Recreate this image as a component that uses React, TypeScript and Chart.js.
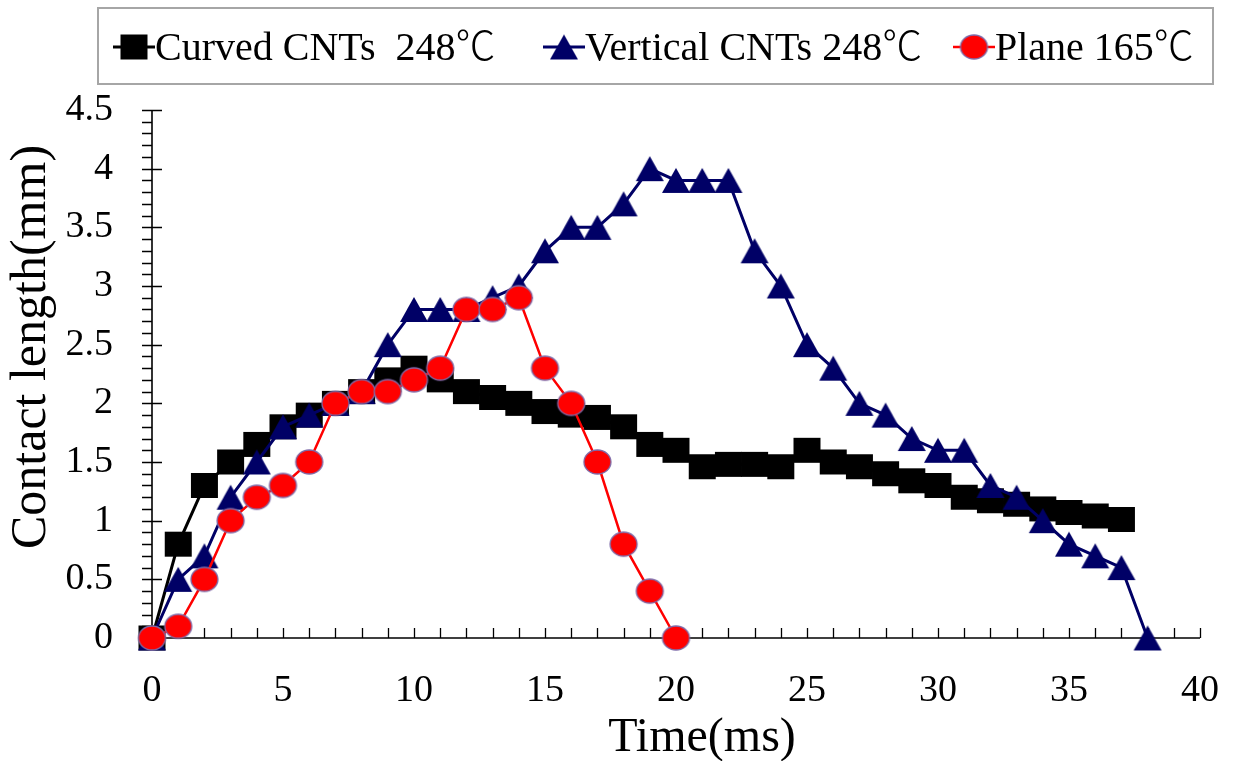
import { useEffect, useRef } from 'react';
import { Chart, registerables } from 'chart.js';

Chart.register(...registerables);

const timeMs = [0, 1, 2, 3, 4, 5, 6, 7, 8, 9, 10, 11, 12, 13, 14, 15, 16, 17, 18, 19, 20, 21, 22, 23, 24, 25, 26, 27, 28, 29, 30, 31, 32, 33, 34, 35, 36, 37, 38];

const curvedCNTs248 = [0, 0.8, 1.3, 1.5, 1.65, 1.8, 1.9, 2.0, 2.1, 2.2, 2.3, 2.2, 2.1, 2.05, 2.0, 1.93, 1.9, 1.88, 1.8, 1.65, 1.6, 1.46, 1.48, 1.48, 1.46, 1.6, 1.5, 1.46, 1.4, 1.34, 1.3, 1.2, 1.17, 1.14, 1.1, 1.07, 1.04, 1.01];

const verticalCNTs248 = [0, 0.5, 0.7, 1.2, 1.5, 1.8, 1.9, 2.0, 2.1, 2.5, 2.8, 2.8, 2.8, 2.9, 3.0, 3.3, 3.5, 3.5, 3.7, 4.0, 3.9, 3.9, 3.9, 3.3, 3.0, 2.5, 2.3, 2.0, 1.9, 1.7, 1.6, 1.6, 1.3, 1.2, 1.0, 0.8, 0.7, 0.6, 0];

const plane165 = [0, 0.1, 0.5, 1.0, 1.2, 1.3, 1.5, 2.0, 2.1, 2.1, 2.2, 2.3, 2.8, 2.8, 2.9, 2.3, 2.0, 1.5, 0.8, 0.4, 0];

const seriesLabels = ['Curved CNTs  248\u2103', 'Vertical CNTs 248\u2103', 'Plane 165\u2103'];

const xTickLabels = ['0', '5', '10', '15', '20', '25', '30', '35', '40'];
const yTickLabels = ['0', '0.5', '1', '1.5', '2', '2.5', '3', '3.5', '4', '4.5'];

const xTitle = 'Time(ms)';
const yTitle = 'Contact length(mm)';

const SERIF = '"Liberation Serif", "Times New Roman", serif';
const LEGEND_FONT = '"Liberation Serif", "Noto Sans CJK SC", "DejaVu Serif", serif';

function makeMarker(kind: string, w: number, h: number, fill: string, stroke: string, lw: number) {
  const c = document.createElement('canvas');
  const pad = 2;
  c.width = w + pad * 2;
  c.height = h + pad * 2;
  const g = c.getContext('2d')!;
  g.fillStyle = fill;
  g.strokeStyle = stroke;
  g.lineWidth = lw;
  g.beginPath();
  if (kind === 'rect') {
    g.rect(pad, pad, w, h);
  } else if (kind === 'tri') {
    g.moveTo(pad + w / 2, pad);
    g.lineTo(pad + w, pad + h);
    g.lineTo(pad, pad + h);
    g.closePath();
  } else {
    g.ellipse(pad + w / 2, pad + h / 2, w / 2, h / 2, 0, 0, Math.PI * 2);
  }
  g.fill();
  if (lw > 0) g.stroke();
  return c;
}

const axesPlugin = {
  id: 'axesDraw',
  beforeDatasetsDraw(chart: any) {
    const ctx = chart.ctx;
    const xs = chart.scales.x;
    const ys = chart.scales.y;
    const { left, right, top, bottom } = chart.chartArea;
    ctx.save();
    ctx.strokeStyle = '#000';
    ctx.lineWidth = 1.6;
    ctx.beginPath();
    ctx.moveTo(left, top);
    ctx.lineTo(left, bottom);
    ctx.lineTo(right, bottom);
    ctx.stroke();
    ctx.lineWidth = 1.3;
    ctx.beginPath();
    for (let i = 0; i <= 45; i++) {
      const py = Math.round(ys.getPixelForValue(i / 10)) + 0.5;
      const major = i % 5 === 0;
      ctx.moveTo(left - 10, py);
      ctx.lineTo(major ? left + 10 : left, py);
    }
    for (let i = 1; i <= 40; i++) {
      const px = Math.round(xs.getPixelForValue(i)) + 0.5;
      ctx.moveTo(px, bottom);
      ctx.lineTo(px, bottom - 10);
    }
    ctx.stroke();
    ctx.restore();
  },
  afterDraw(chart: any) {
    const ctx = chart.ctx;
    ctx.save();
    ctx.fillStyle = '#000';
    ctx.textAlign = 'center';
    ctx.textBaseline = 'middle';
    ctx.font = `48px ${SERIF}`;
    ctx.fillText(xTitle, 702, 738);
    ctx.translate(32, 347);
    ctx.rotate(-Math.PI / 2);
    ctx.font = `50px ${SERIF}`;
    ctx.fillText(yTitle, 0, 0);
    ctx.restore();

    // legend
    const legendX = [113, 543, 953];
    ctx.save();
    ctx.strokeStyle = '#a6a6a6';
    ctx.lineWidth = 2;
    ctx.strokeRect(98, 8, 1115, 76);
    const cy = 47;
    chart.data.datasets.forEach((ds: any, i: number) => {
      const x0 = legendX[i];
      ctx.strokeStyle = ds.borderColor;
      ctx.lineWidth = ds.borderWidth;
      ctx.beginPath();
      ctx.moveTo(x0, cy);
      ctx.lineTo(x0 + 42, cy);
      ctx.stroke();
      const img = ds.pointStyle as HTMLCanvasElement;
      ctx.drawImage(img, x0 + 21 - img.width / 2, cy - img.height / 2);
      ctx.fillStyle = '#000';
      ctx.textAlign = 'left';
      ctx.textBaseline = 'middle';
      ctx.font = `300 40px ${LEGEND_FONT}`;
      ctx.fillText(ds.label, x0 + 42, cy + 2);
    });
    ctx.restore();
  },
};

export default function App() {
  const ref = useRef<HTMLCanvasElement | null>(null);

  useEffect(() => {
    document.body.style.margin = '0';
    const canvas = ref.current!;
    const sq = makeMarker('rect', 27, 25, '#000000', '#000000', 0);
    const tri = makeMarker('tri', 28, 25, '#000066', '#000066', 0);
    const circ = makeMarker('ellipse', 27, 24, '#ff0000', '#7d6aa8', 1.3);

    const chart = new Chart(canvas, {
      type: 'line',
      data: {
        datasets: [
          {
            label: seriesLabels[0],
            data: curvedCNTs248.map((v, i) => ({ x: timeMs[i], y: v })),
            borderColor: '#000000',
            backgroundColor: '#000000',
            borderWidth: 3,
            pointStyle: sq as any,
            pointRadius: 13,
            order: 3,
            clip: false as any,
            tension: 0,
          },
          {
            label: seriesLabels[1],
            data: verticalCNTs248.map((v, i) => ({ x: timeMs[i], y: v })),
            borderColor: '#000066',
            backgroundColor: '#000066',
            borderWidth: 3,
            pointStyle: tri as any,
            pointRadius: 13,
            order: 2,
            clip: false as any,
            tension: 0,
          },
          {
            label: seriesLabels[2],
            data: plane165.map((v, i) => ({ x: timeMs[i], y: v })),
            borderColor: '#ff0000',
            backgroundColor: '#ff0000',
            borderWidth: 2.5,
            pointStyle: circ as any,
            pointRadius: 13,
            order: 1,
            clip: false as any,
            tension: 0,
          },
        ],
      },
      options: {
        animation: false,
        responsive: false,
        devicePixelRatio: 1,
        layout: { padding: { top: 110, right: 33, left: 0, bottom: 0 } },
        plugins: { legend: { display: false }, tooltip: { enabled: false } },
        events: [],
        scales: {
          x: {
            type: 'linear',
            min: 0,
            max: 40,
            grid: { display: false, drawTicks: false },
            border: { display: false },
            ticks: {
              stepSize: 5,
              autoSkip: false,
              maxRotation: 0,
              padding: 30,
              color: '#000',
              font: { family: SERIF, size: 38 },
              callback: (v: any) => xTickLabels[Math.round(Number(v) / 5)] ?? '',
            },
            afterFit: (s: any) => {
              s.height = 123;
              s.paddingLeft = 0;
              s.paddingRight = 0;
            },
          },
          y: {
            type: 'linear',
            min: 0,
            max: 4.5,
            grid: { display: false, drawTicks: false },
            border: { display: false },
            ticks: {
              stepSize: 0.5,
              autoSkip: false,
              padding: 39,
              color: '#000',
              font: { family: SERIF, size: 38 },
              callback: (v: any) => yTickLabels[Math.round(Number(v) * 2)] ?? '',
            },
            afterFit: (s: any) => {
              s.width = 152;
              s.paddingTop = 0;
              s.paddingBottom = 0;
            },
          },
        },
      } as any,
      plugins: [axesPlugin],
    });
    return () => chart.destroy();
  }, []);

  return (
    <canvas
      ref={ref}
      width={1233}
      height={761}
      style={{ position: 'fixed', left: 0, top: 0, width: 1233, height: 761, background: '#fff' }}
    />
  );
}
